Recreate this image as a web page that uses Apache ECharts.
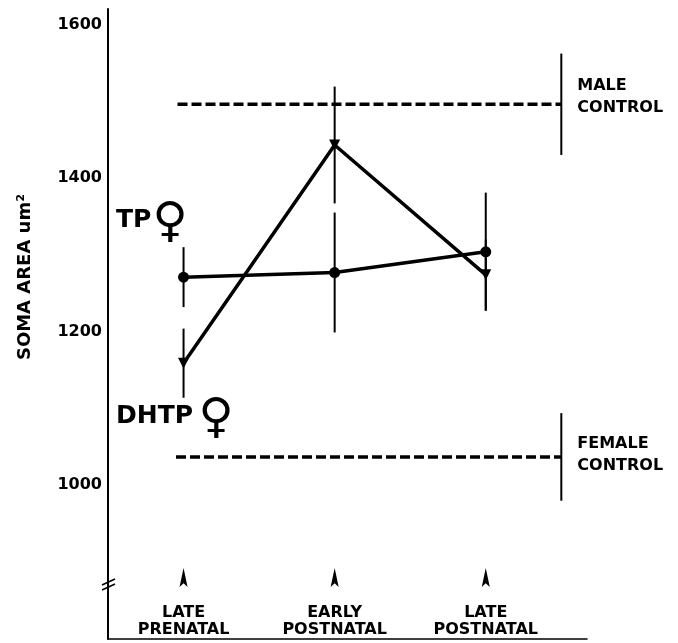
<!DOCTYPE html>
<html>
<head>
<meta charset="utf-8">
<script src="https://cdn.jsdelivr.net/npm/echarts@6/dist/echarts.min.js"></script>
<style>
html, body { margin: 0; padding: 0; background: #fff; }
#chart { width: 678px; height: 643px; }
</style>
</head>
<body>
<div id="chart"></div>
<script>
// developmental stages (x positions 1..3)
var stages = ['LATE\nPRENATAL', 'EARLY\nPOSTNATAL', 'LATE\nPOSTNATAL'];
var stageX = [1, 2, 3];

// soma area means and error half-widths
var tpMean = [1271, 1277, 1304];
var tpErr = [39, 78, 77];
var dhtpMean = [1159, 1443, 1274];
var dhtpErr = [45, 76, 46];

// control groups
var controlNames = ['MALE\nCONTROL', 'FEMALE\nCONTROL'];
var controlMean = [1496, 1037];
var controlErr = [66, 57];
var controlX = 3.5;
var controlLineStart = [0.96, 0.95];

var yTicks = [1000, 1200, 1400, 1600];
var arrowLevel = 880;

var font = 'DejaVu Sans';

var myChart = echarts.init(document.getElementById('chart'));

// error bar rows: [x, low, high]
var bars = [];
stageX.forEach(function (x, i) {
  bars.push([x, tpMean[i] - tpErr[i], tpMean[i] + tpErr[i]]);
  bars.push([x, dhtpMean[i] - dhtpErr[i], dhtpMean[i] + dhtpErr[i]]);
});
controlMean.forEach(function (m, i) {
  bars.push([controlX, m - controlErr[i], m + controlErr[i]]);
});

var controlLines = controlMean.map(function (m, i) {
  return {
    type: 'line',
    data: [[controlLineStart[i], m], [controlX, m]],
    symbol: 'none',
    lineStyle: { color: '#000', width: 3.5, type: [10, 4] },
    silent: true
  };
});

myChart.setOption({
  animation: false,
  grid: { left: 108, right: 91, top: 9, bottom: 4 },
  xAxis: {
    type: 'value',
    min: 0.5,
    max: 3.67,
    axisLine: { onZero: false, lineStyle: { color: '#000', width: 1.5 } },
    axisTick: { show: false },
    axisLabel: { show: false },
    splitLine: { show: false }
  },
  yAxis: {
    type: 'value',
    min: 800,
    max: 1620,
    interval: 200,
    axisLine: { show: true, onZero: false, lineStyle: { color: '#000', width: 2 } },
    axisTick: { show: false },
    splitLine: { show: false },
    axisLabel: {
      margin: 6,
      color: '#000',
      fontFamily: font,
      fontWeight: 'bold',
      fontSize: 16,
      formatter: function (v) { return yTicks.indexOf(v) >= 0 ? String(v) : ''; }
    }
  },
  graphic: [
    {
      type: 'text', x: 25, y: 277, rotation: Math.PI / 2,
      style: { text: 'SOMA AREA um²', fontFamily: font, fontWeight: 'bold', fontSize: 18, fill: '#000', align: 'center', verticalAlign: 'middle' }
    },
    {
      type: 'text', x: 116, y: 220,
      style: { text: 'TP', fontFamily: font, fontWeight: 'bold', fontSize: 25, fill: '#000', align: 'left', verticalAlign: 'middle' }
    },
    {
      type: 'text', x: 170, y: 224,
      style: { text: '♀', fontFamily: font, fontWeight: 'bold', fontSize: 48, fill: '#000', align: 'center', verticalAlign: 'middle' }
    },
    {
      type: 'text', x: 116, y: 416,
      style: { text: 'DHTP', fontFamily: font, fontWeight: 'bold', fontSize: 25, fill: '#000', align: 'left', verticalAlign: 'middle' }
    },
    {
      type: 'text', x: 216, y: 420,
      style: { text: '♀', fontFamily: font, fontWeight: 'bold', fontSize: 48, fill: '#000', align: 'center', verticalAlign: 'middle' }
    },
    // axis break mark
    { type: 'rect', shape: { x: 100, y: 582, width: 16, height: 5 }, style: { fill: '#fff' } },
    { type: 'line', shape: { x1: 102, y1: 585, x2: 115, y2: 579 }, style: { stroke: '#000', lineWidth: 1.5 } },
    { type: 'line', shape: { x1: 102, y1: 590, x2: 115, y2: 584 }, style: { stroke: '#000', lineWidth: 1.5 } }
  ],
  series: [
    {
      type: 'custom',
      data: bars,
      encode: { x: 0, y: [1, 2] },
      renderItem: function (params, api) {
        var lo = api.coord([api.value(0), api.value(1)]);
        var hi = api.coord([api.value(0), api.value(2)]);
        return {
          type: 'line',
          shape: { x1: lo[0], y1: lo[1], x2: hi[0], y2: hi[1] },
          style: { stroke: '#000', lineWidth: 2 }
        };
      },
      silent: true
    }
  ].concat(controlLines).concat([
    {
      name: 'TP',
      type: 'line',
      data: stageX.map(function (x, i) { return [x, tpMean[i]]; }),
      symbol: 'circle',
      symbolSize: 11,
      lineStyle: { color: '#000', width: 3.5 },
      itemStyle: { color: '#000' },
      z: 5
    },
    {
      name: 'DHTP',
      type: 'line',
      data: stageX.map(function (x, i) { return [x, dhtpMean[i]]; }),
      symbol: 'triangle',
      symbolRotate: 180,
      symbolSize: 11,
      lineStyle: { color: '#000', width: 3.5 },
      itemStyle: { color: '#000' },
      z: 5
    },
    {
      type: 'scatter',
      data: controlMean.map(function (m, i) {
        return { value: [controlX, m], name: controlNames[i], label: { offset: i === 0 ? [0, -7] : [0, -2] } };
      }),
      symbolSize: 0,
      itemStyle: { opacity: 1, color: '#000' },
      label: {
        show: true,
        position: 'right',
        distance: 16,
        formatter: function (p) { return p.name; },
        color: '#000',
        fontFamily: font,
        fontWeight: 'bold',
        fontSize: 16,
        lineHeight: 22,
        align: 'left'
      },
      silent: true
    },
    {
      type: 'scatter',
      data: stageX.map(function (x, i) { return { value: [x, arrowLevel], name: stages[i] }; }),
      symbol: 'path://M5,0 L10,20 L5,16 L0,20 Z',
      symbolSize: [8, 19],
      itemStyle: { color: '#000', opacity: 1 },
      label: {
        show: true,
        position: 'bottom',
        distance: 17,
        formatter: function (p) { return p.name; },
        color: '#000',
        fontFamily: font,
        fontWeight: 'bold',
        fontSize: 16,
        lineHeight: 17,
        align: 'center'
      },
      silent: true
    }
  ])
});
</script>
</body>
</html>
